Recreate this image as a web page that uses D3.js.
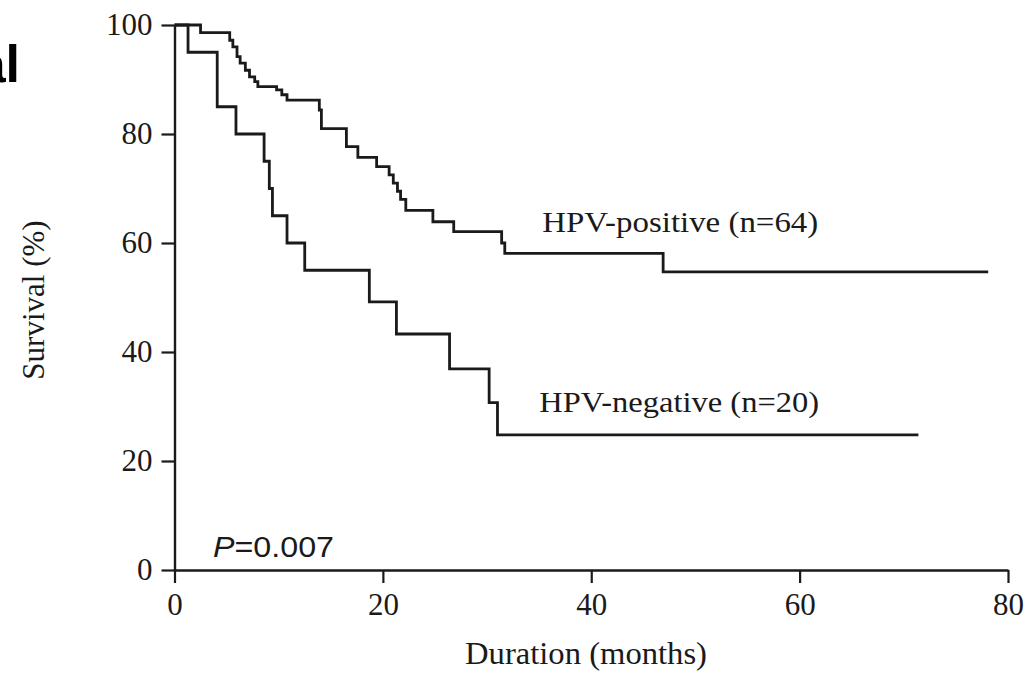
<!DOCTYPE html>
<html>
<head>
<meta charset="utf-8">
<script src="https://cdn.jsdelivr.net/npm/d3@7"></script>
<style>
  html, body { margin: 0; padding: 0; background: #fff; }
  svg { display: block; }
</style>
</head>
<body>
<svg id="chart" width="1026" height="689"></svg>
<script>
// ---- data ----
const xTicks = [0, 20, 40, 60, 80];
const yTicks = [0, 20, 40, 60, 80, 100];

// HPV-positive (n=64): event times (months) and survival (%) after each step
const posTimes    = [0, 2.5, 5.3, 5.6, 6.0, 6.3, 6.8, 7.2, 7.7, 8.0, 9.8, 10.3, 10.8, 13.9, 14.1, 16.5, 17.6, 19.4, 20.6, 21.0, 21.4, 21.7, 22.2, 24.8, 26.8, 31.4, 31.7, 46.9, 78.1];
const posSurvival = [100, 98.6, 97.2, 96.0, 94.2, 93.0, 91.7, 90.5, 89.6, 88.7, 88.1, 87.2, 86.2, 84.4, 81.0, 77.7, 75.7, 74.0, 72.5, 71.0, 69.5, 68.0, 66.0, 63.9, 62.1, 60.0, 58.1, 54.7, 54.7];

// HPV-negative (n=20)
const negTimes    = [0, 1.3, 4.1, 5.9, 8.6, 9.1, 9.4, 10.8, 12.5, 18.7, 21.3, 26.4, 30.2, 31.0, 71.4];
const negSurvival = [100, 95, 85, 80, 75, 70, 65, 60, 55, 49.2, 43.3, 36.9, 30.7, 24.8, 24.8];

const seriesLabels = ["HPV-positive (n=64)", "HPV-negative (n=20)"];
const pLabel = ["P", "=0.007"];

// ---- drawing ----
const svg = d3.select("#chart");
const x = d3.scaleLinear().domain([0, 80]).range([174.5, 1008]);
const y = d3.scaleLinear().domain([0, 100]).range([570, 25]);

const ink = "#1a1a1a";
const serif = "'Liberation Serif', 'Times New Roman', serif";

// axes
const xAxis = svg.append("g")
  .attr("transform", `translate(0,${y(0)})`)
  .call(d3.axisBottom(x).tickValues(xTicks).tickSize(13).tickSizeOuter(0).tickPadding(9));
const yAxis = svg.append("g")
  .attr("transform", `translate(${x(0)},0)`)
  .call(d3.axisLeft(y).tickValues(yTicks).tickSize(13).tickSizeOuter(0).tickPadding(9));

[xAxis, yAxis].forEach(g => {
  g.selectAll("path.domain").attr("stroke", ink).attr("stroke-width", 2.4);
  g.selectAll(".tick line").attr("stroke", ink).attr("stroke-width", 2.2);
  g.selectAll(".tick text").attr("fill", ink).style("font-family", serif).style("font-size", "31px");
});
xAxis.selectAll(".tick text").attr("dy", "0.75em");

// curves
const line = d3.line().curve(d3.curveStepAfter).x(d => x(d[0])).y(d => y(d[1]));
const posData = posTimes.map((t, i) => [t, posSurvival[i]]);
const negData = negTimes.map((t, i) => [t, negSurvival[i]]);

[posData, negData].forEach(data => {
  svg.append("path").datum(data)
    .attr("d", line)
    .attr("fill", "none")
    .attr("stroke", ink)
    .attr("stroke-width", 2.8)
    .attr("stroke-linejoin", "miter");
});

// series labels
svg.append("text").attr("x", x(35.3)).attr("y", 232)
  .attr("fill", ink).style("font-family", serif).style("font-size", "30px")
  .attr("textLength", 276).attr("lengthAdjust", "spacingAndGlyphs")
  .text(seriesLabels[0]);
svg.append("text").attr("x", x(35.0)).attr("y", 412)
  .attr("fill", ink).style("font-family", serif).style("font-size", "30px")
  .attr("textLength", 280).attr("lengthAdjust", "spacingAndGlyphs")
  .text(seriesLabels[1]);

// P value
const pt = svg.append("text").attr("x", 213).attr("y", 557)
  .attr("fill", ink).style("font-family", "'Liberation Sans', Arial, sans-serif").style("font-size", "29px")
  .attr("textLength", 121).attr("lengthAdjust", "spacingAndGlyphs");
pt.append("tspan").style("font-style", "italic").text(pLabel[0]);
pt.append("tspan").text(pLabel[1]);

// axis titles
svg.append("text").attr("x", 465).attr("y", 664)
  .attr("fill", ink)
  .style("font-family", serif).style("font-size", "31px")
  .attr("textLength", 242).attr("lengthAdjust", "spacingAndGlyphs")
  .text("Duration (months)");
svg.append("text")
  .attr("transform", `translate(44,${300}) rotate(-90)`)
  .attr("text-anchor", "middle").attr("fill", ink)
  .style("font-family", serif).style("font-size", "31px")
  .text("Survival (%)");

// panel letter fragment cut at left edge (as in the reference)
svg.append("text").attr("x", 20).attr("y", 82)
  .attr("text-anchor", "end").attr("fill", "#000")
  .style("font-family", "'Liberation Sans', Arial, sans-serif").style("font-weight", "bold").style("font-size", "52px")
  .text("al");
</script>
</body>
</html>
